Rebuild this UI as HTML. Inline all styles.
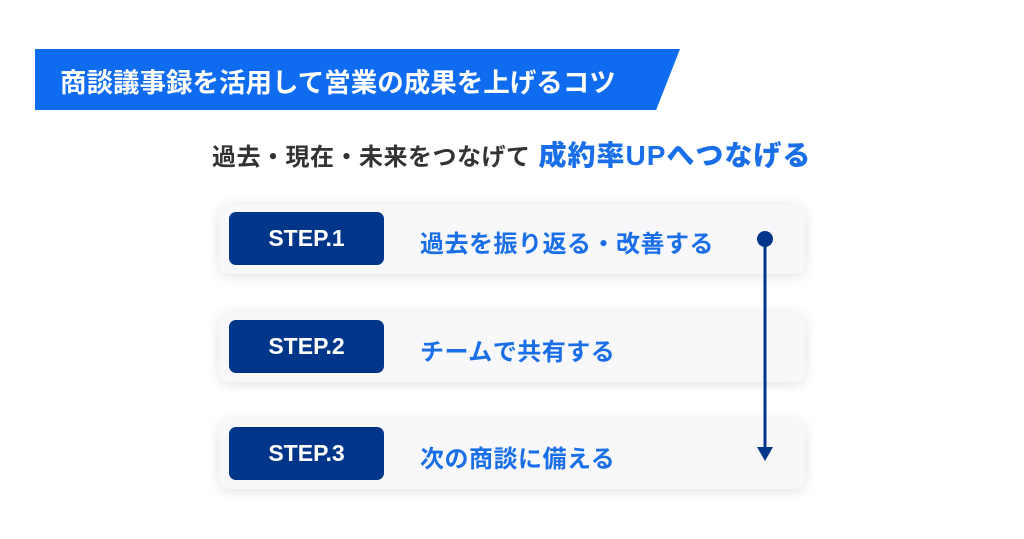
<!DOCTYPE html>
<html><head><meta charset="utf-8"><style>
body{margin:0;width:1024px;height:539px;background:#fff;position:relative;overflow:hidden;font-family:"Liberation Sans","Noto Sans CJK JP",sans-serif;}
.banner{position:absolute;left:35px;top:49px;width:645px;height:61px;background:#0f6bf0;clip-path:polygon(0 0,100% 0,96.3% 100%,0 100%);}
.banner span{position:absolute;left:25px;top:12px;color:#fff;font-size:26.5px;font-weight:bold;white-space:nowrap;}
.sub{position:absolute;left:212px;top:134px;white-space:nowrap;font-weight:bold;color:#333;font-size:24px;letter-spacing:0.5px;}
.sub b{color:#1a6fe8;font-size:28px;margin-left:8px;letter-spacing:1px;}
.card{position:absolute;left:219px;width:586px;height:70px;background:#f8f8fb;border-radius:10px;box-shadow:0 2px 12px rgba(0,0,0,0.12);}
.step{position:absolute;left:10px;top:8px;width:155px;height:53px;background:#00368a;border-radius:7px;color:#fff;font-size:23px;font-weight:bold;text-align:center;line-height:52px;}
.txt{position:absolute;left:201px;top:20px;color:#1a6fe8;font-size:24px;font-weight:bold;white-space:nowrap;letter-spacing:0.5px;}
</style></head><body>
<div class="banner"><span>商談議事録を活用して営業の成果を上げるコツ</span></div>
<div class="sub">過去・現在・未来をつなげて<b>成約率UPへつなげる</b></div>
<div class="card" style="top:204px"><div class="step">STEP.1</div><div class="txt">過去を振り返る・改善する</div></div>
<div class="card" style="top:312px"><div class="step">STEP.2</div><div class="txt">チームで共有する</div></div>
<div class="card" style="top:419px"><div class="step">STEP.3</div><div class="txt">次の商談に備える</div></div>
<svg style="position:absolute;left:0;top:0" width="1024" height="539">
<line x1="765" y1="239" x2="765" y2="450" stroke="#00368a" stroke-width="3"/>
<circle cx="765" cy="239" r="8" fill="#00368a"/>
<polygon points="757,447 773,447 765,461" fill="#00368a"/>
</svg>
</body></html>
